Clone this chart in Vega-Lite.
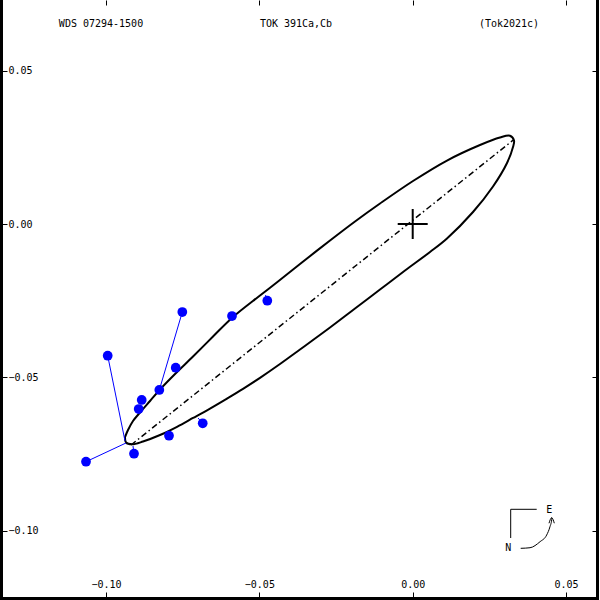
{
  "$schema": "https://vega.github.io/schema/vega-lite/v6.json",
  "width": 596,
  "height": 598,
  "autosize": "none",
  "padding": {"left": 1, "top": 0, "right": 3, "bottom": 2},
  "background": "white",
  "config": {
    "view": {"stroke": null},
    "axis": {"grid": false, "domain": false, "title": null, "tickColor": "black", "tickWidth": 1, "labelColor": "black", "labelFont": "DejaVu Sans Mono", "labelFontSize": 10, "labelFlush": false, "labelOverlap": false, "domainColor": "black", "domainWidth": 3, "domainCap": "square"}
  },
  "datasets": {
    "orbit": [
      {"i": 1, "x": -0.09380, "y": -0.06945},
      {"i": 2, "x": -0.09283, "y": -0.06717},
      {"i": 3, "x": -0.09120, "y": -0.06423},
      {"i": 4, "x": -0.08891, "y": -0.06146},
      {"i": 5, "x": -0.08565, "y": -0.05771},
      {"i": 6, "x": -0.08239, "y": -0.05396},
      {"i": 7, "x": -0.07750, "y": -0.04891},
      {"i": 8, "x": -0.07163, "y": -0.04320},
      {"i": 9, "x": -0.06511, "y": -0.03668},
      {"i": 10, "x": -0.05859, "y": -0.03032},
      {"i": 11, "x": -0.04979, "y": -0.02331},
      {"i": 12, "x": -0.04392, "y": -0.01875},
      {"i": 13, "x": -0.03675, "y": -0.01304},
      {"i": 14, "x": -0.02696, "y": -0.00538},
      {"i": 15, "x": -0.01881, "y": 0.00082},
      {"i": 16, "x": -0.01066, "y": 0.00668},
      {"i": 17, "x": 0.00010, "y": 0.01402},
      {"i": 18, "x": 0.01118, "y": 0.02070},
      {"i": 19, "x": 0.02194, "y": 0.02576},
      {"i": 20, "x": 0.02846, "y": 0.02820},
      {"i": 21, "x": 0.03172, "y": 0.02876},
      {"i": 22, "x": 0.03303, "y": 0.02723},
      {"i": 23, "x": 0.03270, "y": 0.02511},
      {"i": 24, "x": 0.03075, "y": 0.01989},
      {"i": 25, "x": 0.02618, "y": 0.01223},
      {"i": 26, "x": 0.01966, "y": 0.00391},
      {"i": 27, "x": 0.01118, "y": -0.00473},
      {"i": 28, "x": 0.00564, "y": -0.00913},
      {"i": 29, "x": -0.00251, "y": -0.01516},
      {"i": 30, "x": -0.01066, "y": -0.02136},
      {"i": 31, "x": -0.01881, "y": -0.02755},
      {"i": 32, "x": -0.02696, "y": -0.03375},
      {"i": 33, "x": -0.03675, "y": -0.04092},
      {"i": 34, "x": -0.04327, "y": -0.04565},
      {"i": 35, "x": -0.04979, "y": -0.05015},
      {"i": 36, "x": -0.05533, "y": -0.05373},
      {"i": 37, "x": -0.06055, "y": -0.05690},
      {"i": 38, "x": -0.06609, "y": -0.06016},
      {"i": 39, "x": -0.07163, "y": -0.06325},
      {"i": 40, "x": -0.07685, "y": -0.06612},
      {"i": 41, "x": -0.08239, "y": -0.06880},
      {"i": 42, "x": -0.08794, "y": -0.07092},
      {"i": 43, "x": -0.09152, "y": -0.07183},
      {"i": 44, "x": -0.09348, "y": -0.07124},
      {"i": 45, "x": -0.09380, "y": -0.06945}
    ],
    "apsides": [
      {"x": -0.09185, "y": -0.07206, "x2": 0.03280, "y2": 0.02739}
    ],
    "obs": [
      {"x": -0.07512, "y": -0.02869, "xc": -0.08223, "yc": -0.05282},
      {"x": -0.09945, "y": -0.04294, "xc": -0.09380, "yc": -0.07075},
      {"x": -0.07727, "y": -0.04685, "xc": -0.07815, "yc": -0.04826},
      {"x": -0.08262, "y": -0.05412, "xc": -0.08239, "yc": -0.05380},
      {"x": -0.08836, "y": -0.05738, "xc": -0.08794, "yc": -0.05804},
      {"x": -0.08934, "y": -0.06032, "xc": -0.08924, "yc": -0.06065},
      {"x": -0.06847, "y": -0.06498, "xc": -0.07000, "yc": -0.06325},
      {"x": -0.07946, "y": -0.06902, "xc": -0.07978, "yc": -0.06847},
      {"x": -0.09087, "y": -0.07489, "xc": -0.09120, "yc": -0.07238},
      {"x": -0.10652, "y": -0.07750, "xc": -0.09348, "yc": -0.07140},
      {"x": -0.05892, "y": -0.03000, "xc": -0.05859, "yc": -0.03032},
      {"x": -0.04741, "y": -0.02501, "xc": -0.04799, "yc": -0.02315}
    ],
    "cross": [
      {"x": -0.00489, "y": 0, "x2": 0.00489, "y2": 0},
      {"x": 0, "y": -0.00489, "x2": 0, "y2": 0.00489}
    ],
    "compassLines": [
      {"x": 0.03195, "y": -0.09302, "x2": 0.04043, "y2": -0.09302},
      {"x": 0.03195, "y": -0.09302, "x2": 0.03195, "y2": -0.10238}
    ],
    "compassArc": [
      {"g": "arc", "i": 1, "x": 0.03521, "y": -0.10574},
      {"g": "arc", "i": 2, "x": 0.03825, "y": -0.10555},
      {"g": "arc", "i": 3, "x": 0.04151, "y": -0.10359},
      {"g": "arc", "i": 4, "x": 0.04368, "y": -0.10141},
      {"g": "arc", "i": 5, "x": 0.04476, "y": -0.09869},
      {"g": "arc", "i": 6, "x": 0.04532, "y": -0.09640},
      {"g": "arc", "i": 7, "x": 0.04532, "y": -0.09576},
      {"g": "head", "i": 1, "x": 0.04444, "y": -0.09756},
      {"g": "head", "i": 2, "x": 0.04532, "y": -0.09576},
      {"g": "head", "i": 3, "x": 0.04617, "y": -0.09756}
    ],
    "labels": [
      {"label": "WDS 07294-1500", "x": -0.10163, "y": 0.06521},
      {"label": "TOK 391Ca,Cb", "x": -0.03805, "y": 0.06521},
      {"label": "(Tok2021c)", "x": 0.03140, "y": 0.06521},
      {"label": "E", "x": 0.04454, "y": -0.09325},
      {"label": "N", "x": 0.03117, "y": -0.10554}
    ]
  },
  "layer": [
    {
      "data": {"name": "orbit"},
      "mark": {"type": "line", "color": "black", "strokeWidth": 2, "strokeJoin": "round", "interpolate": "catmull-rom"},
      "encoding": {
        "x": {"field": "x", "type": "quantitative", "scale": {"domain": [-0.13424, 0.06009], "nice": false, "zero": false},
              "axis": {"orient": "bottom", "domain": true, "values": [-0.1, -0.05, 0, 0.05], "format": ".2f", "tickSize": -6, "labelPadding": -8, "labelBaseline": "middle"}},
        "y": {"field": "y", "type": "quantitative", "scale": {"domain": [-0.12194, 0.07304], "nice": false, "zero": false},
              "axis": {"orient": "left", "domain": true, "values": [-0.1, -0.05, 0, 0.05], "format": ".2f", "tickSize": -6, "labelPadding": -1, "labelAlign": "left", "labelBaseline": "middle"}},
        "order": {"field": "i"}
      }
    },
    {
      "data": {"name": "apsides"},
      "mark": {"type": "rule", "color": "black", "strokeWidth": 1.5, "strokeDash": [6, 3, 1.5, 3]},
      "encoding": {
        "x": {"field": "x", "type": "quantitative", "axis": {"orient": "top", "domain": false, "values": [-0.1, -0.05, 0, 0.05], "labels": false, "tickSize": -5}},
        "y": {"field": "y", "type": "quantitative", "axis": {"orient": "right", "domain": true, "values": [-0.1, -0.05, 0, 0.05], "labels": false, "tickSize": -5}},
        "x2": {"field": "x2"},
        "y2": {"field": "y2"}
      }
    },
    {
      "data": {"name": "obs"},
      "mark": {"type": "rule", "color": "#0000ff", "strokeWidth": 1},
      "encoding": {
        "x": {"field": "x", "type": "quantitative", "axis": null},
        "y": {"field": "y", "type": "quantitative", "axis": null},
        "x2": {"field": "xc"},
        "y2": {"field": "yc"}
      }
    },
    {
      "data": {"name": "obs"},
      "mark": {"type": "circle", "color": "#0000ff", "opacity": 1, "size": 95},
      "encoding": {
        "x": {"field": "x", "type": "quantitative", "axis": null},
        "y": {"field": "y", "type": "quantitative", "axis": null}
      }
    },
    {
      "data": {"name": "cross"},
      "mark": {"type": "rule", "color": "black", "strokeWidth": 2},
      "encoding": {
        "x": {"field": "x", "type": "quantitative", "axis": null},
        "y": {"field": "y", "type": "quantitative", "axis": null},
        "x2": {"field": "x2"},
        "y2": {"field": "y2"}
      }
    },
    {
      "data": {"name": "compassLines"},
      "mark": {"type": "rule", "color": "black", "strokeWidth": 1},
      "encoding": {
        "x": {"field": "x", "type": "quantitative", "axis": null},
        "y": {"field": "y", "type": "quantitative", "axis": null},
        "x2": {"field": "x2"},
        "y2": {"field": "y2"}
      }
    },
    {
      "data": {"name": "compassArc"},
      "mark": {"type": "line", "color": "black", "strokeWidth": 1, "interpolate": "monotone"},
      "encoding": {
        "x": {"field": "x", "type": "quantitative", "axis": null},
        "y": {"field": "y", "type": "quantitative", "axis": null},
        "detail": {"field": "g"},
        "order": {"field": "i"}
      }
    },
    {
      "data": {"name": "labels"},
      "mark": {"type": "text", "color": "black", "font": "DejaVu Sans Mono", "fontSize": 10, "align": "center", "baseline": "middle"},
      "encoding": {
        "x": {"field": "x", "type": "quantitative", "axis": null},
        "y": {"field": "y", "type": "quantitative", "axis": null},
        "text": {"field": "label"}
      }
    }
  ],
  "resolve": {"axis": {"x": "independent", "y": "independent"}}
}
